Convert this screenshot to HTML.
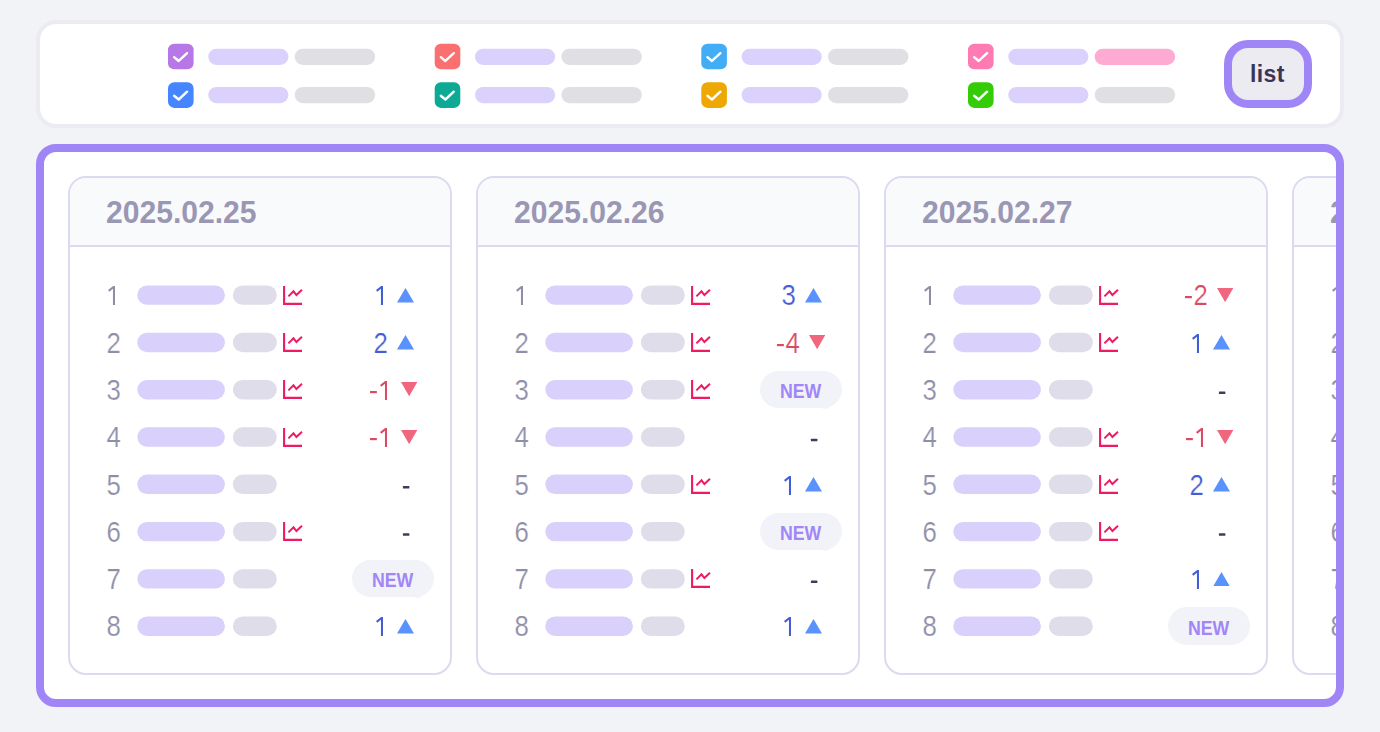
<!DOCTYPE html><html><head><meta charset="utf-8"><title>rank</title><style>
*{box-sizing:border-box;margin:0;padding:0}
html,body{width:1380px;height:732px;overflow:hidden}
body{background:#f2f3f7;font-family:"Liberation Sans",sans-serif;position:relative}
.top{position:absolute;left:36px;top:20px;width:1308px;height:108px;background:#fff;border:4px solid #ebebf1;border-radius:20px}
.cbs{position:absolute}
.listbtn{position:absolute;left:1224px;top:40px;width:88px;height:68px;border:8px solid #9f85f5;border-radius:24px;background:#ecebf2;color:#3a3456;font-weight:bold;font-size:23px;letter-spacing:.4px;text-align:center;line-height:53px;text-indent:-1.2px}
.panel{position:absolute;left:36px;top:144px;width:1308px;height:563px;border:8px solid #9f85f5;border-radius:20px;background:#fff;overflow:hidden}
.card{position:absolute;top:24px;width:384px;height:499px;border:2px solid #dddaf0;border-radius:18px;background:#fff;overflow:hidden}
.hd{position:absolute;left:0;top:0;width:100%;height:68.6px;background:#f9fafc;border-bottom:2px solid #dddaf0}
.date{position:absolute;left:35.8px;top:14px;font-size:32px;font-weight:bold;color:#9997b3;line-height:40px;white-space:nowrap;transform:scaleX(.94);transform-origin:0 0}
.row{position:absolute;left:0;width:100%;height:0}
.rk{position:absolute;left:36px;top:var(--t);height:40px;line-height:40px;font-size:28px;color:#8f8ea8;width:20px;white-space:nowrap;-webkit-text-stroke:.22px #fff}
.ic{position:absolute;left:213px;top:-9.4px;width:20px;height:20px}
.num{position:absolute;top:var(--t);height:40px;line-height:40px;font-size:28px;text-align:right;width:60px;white-space:nowrap;-webkit-text-stroke:.22px #fff}
.one{display:inline-block;width:15px;height:18.9px;vertical-align:baseline}
.rk .one{margin-left:.3px}
.d{display:inline-block;transform:scale(.92,1.03);transform-origin:50% 29.7px}
.mi{display:inline-block;width:8.1px;height:2.2px;vertical-align:6.2px}
.up{color:#445dd6}.dn{color:#dc4a62}
.tri{position:absolute}
.new{position:absolute;left:282px;top:-18.7px;width:82px;height:37px;border-radius:18.5px;background:#f2f3f8;color:#a186f6;font-weight:bold;font-size:20.3px;line-height:40.8px;text-align:center}
.new.last{height:38.4px;top:-19.2px;border-radius:19.2px;line-height:42px}
.new b{display:inline-block;transform:scaleX(.875)}
.new i{position:absolute;left:59px;top:30px;width:12px;height:8px;border-radius:0 0 8px 8px;background:#f2f3f8}
</style></head><body>
<div class="top"></div>
<svg class="cbs" style="left:167px;top:42px" width="29" height="29" viewBox="0 0 29 29"><rect x="1.00" y="1.65" width="25.6" height="25.7" rx="6.2" fill="#b877e6"/><path transform="translate(1.00 1.65)" d="M6.1 13.5 L10.7 17.3 L19.1 9.5" fill="none" stroke="#fff" stroke-width="2.4" stroke-linecap="round" stroke-linejoin="round"/></svg>
<svg class="cbs" style="left:433px;top:42px" width="29" height="29" viewBox="0 0 29 29"><rect x="1.70" y="1.65" width="25.6" height="25.7" rx="6.2" fill="#fa7070"/><path transform="translate(1.70 1.65)" d="M6.1 13.5 L10.7 17.3 L19.1 9.5" fill="none" stroke="#fff" stroke-width="2.4" stroke-linecap="round" stroke-linejoin="round"/></svg>
<svg class="cbs" style="left:700px;top:42px" width="29" height="29" viewBox="0 0 29 29"><rect x="1.30" y="1.65" width="25.6" height="25.7" rx="6.2" fill="#42adf5"/><path transform="translate(1.30 1.65)" d="M6.1 13.5 L10.7 17.3 L19.1 9.5" fill="none" stroke="#fff" stroke-width="2.4" stroke-linecap="round" stroke-linejoin="round"/></svg>
<svg class="cbs" style="left:967px;top:42px" width="29" height="29" viewBox="0 0 29 29"><rect x="1.00" y="1.65" width="25.6" height="25.7" rx="6.2" fill="#ff7ab2"/><path transform="translate(1.00 1.65)" d="M6.1 13.5 L10.7 17.3 L19.1 9.5" fill="none" stroke="#fff" stroke-width="2.4" stroke-linecap="round" stroke-linejoin="round"/></svg>
<svg class="cbs" style="left:167px;top:81px" width="29" height="29" viewBox="0 0 29 29"><rect x="1.00" y="1.20" width="25.6" height="25.7" rx="6.2" fill="#4585ff"/><path transform="translate(1.00 1.20)" d="M6.1 13.5 L10.7 17.3 L19.1 9.5" fill="none" stroke="#fff" stroke-width="2.4" stroke-linecap="round" stroke-linejoin="round"/></svg>
<svg class="cbs" style="left:433px;top:81px" width="29" height="29" viewBox="0 0 29 29"><rect x="1.70" y="1.20" width="25.6" height="25.7" rx="6.2" fill="#0caa95"/><path transform="translate(1.70 1.20)" d="M6.1 13.5 L10.7 17.3 L19.1 9.5" fill="none" stroke="#fff" stroke-width="2.4" stroke-linecap="round" stroke-linejoin="round"/></svg>
<svg class="cbs" style="left:700px;top:81px" width="29" height="29" viewBox="0 0 29 29"><rect x="1.30" y="1.20" width="25.6" height="25.7" rx="6.2" fill="#eda804"/><path transform="translate(1.30 1.20)" d="M6.1 13.5 L10.7 17.3 L19.1 9.5" fill="none" stroke="#fff" stroke-width="2.4" stroke-linecap="round" stroke-linejoin="round"/></svg>
<svg class="cbs" style="left:967px;top:81px" width="29" height="29" viewBox="0 0 29 29"><rect x="1.00" y="1.20" width="25.6" height="25.7" rx="6.2" fill="#33cc06"/><path transform="translate(1.00 1.20)" d="M6.1 13.5 L10.7 17.3 L19.1 9.5" fill="none" stroke="#fff" stroke-width="2.4" stroke-linecap="round" stroke-linejoin="round"/></svg>
<svg style="position:absolute;left:0;top:0" width="1380" height="130" viewBox="0 0 1380 130"><rect x="208.30" y="48.70" width="80.1" height="16.2" rx="8.1" fill="#dad1fc"/><rect x="294.70" y="48.70" width="80.4" height="16.2" rx="8.1" fill="#e0dfe4"/><rect x="475.00" y="48.70" width="80.1" height="16.2" rx="8.1" fill="#dad1fc"/><rect x="561.40" y="48.70" width="80.4" height="16.2" rx="8.1" fill="#e0dfe4"/><rect x="741.60" y="48.70" width="80.1" height="16.2" rx="8.1" fill="#dad1fc"/><rect x="828.00" y="48.70" width="80.4" height="16.2" rx="8.1" fill="#e0dfe4"/><rect x="1008.30" y="48.70" width="80.1" height="16.2" rx="8.1" fill="#dad1fc"/><rect x="1094.70" y="48.70" width="80.4" height="16.2" rx="8.1" fill="#ffaad2"/><rect x="208.30" y="86.95" width="80.1" height="16.2" rx="8.1" fill="#dad1fc"/><rect x="294.70" y="86.95" width="80.4" height="16.2" rx="8.1" fill="#e0dfe4"/><rect x="475.00" y="86.95" width="80.1" height="16.2" rx="8.1" fill="#dad1fc"/><rect x="561.40" y="86.95" width="80.4" height="16.2" rx="8.1" fill="#e0dfe4"/><rect x="741.60" y="86.95" width="80.1" height="16.2" rx="8.1" fill="#dad1fc"/><rect x="828.00" y="86.95" width="80.4" height="16.2" rx="8.1" fill="#e0dfe4"/><rect x="1008.30" y="86.95" width="80.1" height="16.2" rx="8.1" fill="#dad1fc"/><rect x="1094.70" y="86.95" width="80.4" height="16.2" rx="8.1" fill="#e0dfe4"/></svg>
<div class="listbtn">list</div>
<div class="panel">
<div class="card" style="left:24px"><div class="hd"><div class="date">2025.02.25</div></div>
<div class="row" style="top:117.15px;--t:-19.40px"><div class="rk"><svg class="one" viewBox="0 0 15 18.9"><path d="M9 0 L7.2 0 L2.04 4 L3.27 5.8 L6.96 2.8 L6.96 18.9 L9 18.9 Z" fill="currentColor"/></svg></div><svg class="ic" viewBox="0 0 20 20"><path d="M1.1 0 V17.9 H19" fill="none" stroke="#ee1a62" stroke-width="2.1"/><path d="M5.4 10.4 L10.5 5.3 L13.4 9.1 L19 3.8" fill="none" stroke="#ee1a62" stroke-width="2"/></svg><div class="num up" style="left:259px"><svg class="one" viewBox="0 0 15 18.9"><path d="M9 0 L7.2 0 L2.04 4 L3.27 5.8 L6.96 2.8 L6.96 18.9 L9 18.9 Z" fill="currentColor"/></svg></div><svg class="tri" style="left:327px;top:-7.1px" width="17" height="14.6" viewBox="0 0 17 14.6"><path d="M8.5 0 L17 14.6 H0 Z" fill="#5991fd"/></svg></div>
<div class="row" style="top:164.44px;--t:-18.69px"><div class="rk"><span class="d">2</span></div><svg class="ic" viewBox="0 0 20 20"><path d="M1.1 0 V17.9 H19" fill="none" stroke="#ee1a62" stroke-width="2.1"/><path d="M5.4 10.4 L10.5 5.3 L13.4 9.1 L19 3.8" fill="none" stroke="#ee1a62" stroke-width="2"/></svg><div class="num up" style="left:259px"><span class="d">2</span></div><svg class="tri" style="left:327px;top:-7.1px" width="17" height="14.6" viewBox="0 0 17 14.6"><path d="M8.5 0 L17 14.6 H0 Z" fill="#5991fd"/></svg></div>
<div class="row" style="top:211.73px;--t:-18.98px"><div class="rk"><span class="d">3</span></div><svg class="ic" viewBox="0 0 20 20"><path d="M1.1 0 V17.9 H19" fill="none" stroke="#ee1a62" stroke-width="2.1"/><path d="M5.4 10.4 L10.5 5.3 L13.4 9.1 L19 3.8" fill="none" stroke="#ee1a62" stroke-width="2"/></svg><div class="num dn" style="left:262.7px"><svg class="mi" viewBox="0 0 8.1 2.2"><rect width="6.9" height="2.2" fill="currentColor"/></svg><svg class="one" viewBox="0 0 15 18.9"><path d="M9 0 L7.2 0 L2.04 4 L3.27 5.8 L6.96 2.8 L6.96 18.9 L9 18.9 Z" fill="currentColor"/></svg></div><svg class="tri" style="left:330.8px;top:-7.3px" width="16.3" height="14.2" viewBox="0 0 16.3 14.2"><path d="M0 0 H16.3 L8.15 14.2 Z" fill="#f0667f"/></svg></div>
<div class="row" style="top:259.02px;--t:-19.27px"><div class="rk"><span class="d">4</span></div><svg class="ic" viewBox="0 0 20 20"><path d="M1.1 0 V17.9 H19" fill="none" stroke="#ee1a62" stroke-width="2.1"/><path d="M5.4 10.4 L10.5 5.3 L13.4 9.1 L19 3.8" fill="none" stroke="#ee1a62" stroke-width="2"/></svg><div class="num dn" style="left:262.7px"><svg class="mi" viewBox="0 0 8.1 2.2"><rect width="6.9" height="2.2" fill="currentColor"/></svg><svg class="one" viewBox="0 0 15 18.9"><path d="M9 0 L7.2 0 L2.04 4 L3.27 5.8 L6.96 2.8 L6.96 18.9 L9 18.9 Z" fill="currentColor"/></svg></div><svg class="tri" style="left:330.8px;top:-7.3px" width="16.3" height="14.2" viewBox="0 0 16.3 14.2"><path d="M0 0 H16.3 L8.15 14.2 Z" fill="#f0667f"/></svg></div>
<div class="row" style="top:306.31px;--t:-18.56px"><div class="rk"><span class="d">5</span></div></div>
<div class="row" style="top:353.60px;--t:-18.85px"><div class="rk"><span class="d">6</span></div><svg class="ic" viewBox="0 0 20 20"><path d="M1.1 0 V17.9 H19" fill="none" stroke="#ee1a62" stroke-width="2.1"/><path d="M5.4 10.4 L10.5 5.3 L13.4 9.1 L19 3.8" fill="none" stroke="#ee1a62" stroke-width="2"/></svg></div>
<div class="row" style="top:400.89px;--t:-19.14px"><div class="rk"><span class="d">7</span></div><div class="new"><b>NEW</b><i></i></div></div>
<div class="row" style="top:448.18px;--t:-19.43px"><div class="rk"><span class="d">8</span></div><div class="num up" style="left:259px"><svg class="one" viewBox="0 0 15 18.9"><path d="M9 0 L7.2 0 L2.04 4 L3.27 5.8 L6.96 2.8 L6.96 18.9 L9 18.9 Z" fill="currentColor"/></svg></div><svg class="tri" style="left:327px;top:-7.1px" width="17" height="14.6" viewBox="0 0 17 14.6"><path d="M8.5 0 L17 14.6 H0 Z" fill="#5991fd"/></svg></div>
<svg style="position:absolute;left:0;top:0" width="380" height="495" viewBox="0 0 380 495"><rect x="67.3" y="107.45" width="87.6" height="19.4" rx="9.7" fill="#d9d0fb"/><rect x="162.9" y="107.45" width="43.9" height="19.4" rx="9.7" fill="#dedde9"/><rect x="67.3" y="154.74" width="87.6" height="19.4" rx="9.7" fill="#d9d0fb"/><rect x="162.9" y="154.74" width="43.9" height="19.4" rx="9.7" fill="#dedde9"/><rect x="67.3" y="202.03" width="87.6" height="19.4" rx="9.7" fill="#d9d0fb"/><rect x="162.9" y="202.03" width="43.9" height="19.4" rx="9.7" fill="#dedde9"/><rect x="67.3" y="249.32" width="87.6" height="19.4" rx="9.7" fill="#d9d0fb"/><rect x="162.9" y="249.32" width="43.9" height="19.4" rx="9.7" fill="#dedde9"/><rect x="67.3" y="296.61" width="87.6" height="19.4" rx="9.7" fill="#d9d0fb"/><rect x="162.9" y="296.61" width="43.9" height="19.4" rx="9.7" fill="#dedde9"/><rect x="332.9" y="307.96" width="6.5" height="2.55" rx=".5" fill="#403b5c"/><rect x="67.3" y="343.90" width="87.6" height="19.4" rx="9.7" fill="#d9d0fb"/><rect x="162.9" y="343.90" width="43.9" height="19.4" rx="9.7" fill="#dedde9"/><rect x="332.9" y="355.25" width="6.5" height="2.55" rx=".5" fill="#403b5c"/><rect x="67.3" y="391.19" width="87.6" height="19.4" rx="9.7" fill="#d9d0fb"/><rect x="162.9" y="391.19" width="43.9" height="19.4" rx="9.7" fill="#dedde9"/><rect x="67.3" y="438.48" width="87.6" height="19.4" rx="9.7" fill="#d9d0fb"/><rect x="162.9" y="438.48" width="43.9" height="19.4" rx="9.7" fill="#dedde9"/></svg>
</div>
<div class="card" style="left:432px"><div class="hd"><div class="date">2025.02.26</div></div>
<div class="row" style="top:117.15px;--t:-19.40px"><div class="rk"><svg class="one" viewBox="0 0 15 18.9"><path d="M9 0 L7.2 0 L2.04 4 L3.27 5.8 L6.96 2.8 L6.96 18.9 L9 18.9 Z" fill="currentColor"/></svg></div><svg class="ic" viewBox="0 0 20 20"><path d="M1.1 0 V17.9 H19" fill="none" stroke="#ee1a62" stroke-width="2.1"/><path d="M5.4 10.4 L10.5 5.3 L13.4 9.1 L19 3.8" fill="none" stroke="#ee1a62" stroke-width="2"/></svg><div class="num up" style="left:259px"><span class="d">3</span></div><svg class="tri" style="left:327px;top:-7.1px" width="17" height="14.6" viewBox="0 0 17 14.6"><path d="M8.5 0 L17 14.6 H0 Z" fill="#5991fd"/></svg></div>
<div class="row" style="top:164.44px;--t:-18.69px"><div class="rk"><span class="d">2</span></div><svg class="ic" viewBox="0 0 20 20"><path d="M1.1 0 V17.9 H19" fill="none" stroke="#ee1a62" stroke-width="2.1"/><path d="M5.4 10.4 L10.5 5.3 L13.4 9.1 L19 3.8" fill="none" stroke="#ee1a62" stroke-width="2"/></svg><div class="num dn" style="left:262.7px"><svg class="mi" viewBox="0 0 8.1 2.2"><rect width="6.9" height="2.2" fill="currentColor"/></svg><span class="d">4</span></div><svg class="tri" style="left:330.8px;top:-7.3px" width="16.3" height="14.2" viewBox="0 0 16.3 14.2"><path d="M0 0 H16.3 L8.15 14.2 Z" fill="#f0667f"/></svg></div>
<div class="row" style="top:211.73px;--t:-18.98px"><div class="rk"><span class="d">3</span></div><svg class="ic" viewBox="0 0 20 20"><path d="M1.1 0 V17.9 H19" fill="none" stroke="#ee1a62" stroke-width="2.1"/><path d="M5.4 10.4 L10.5 5.3 L13.4 9.1 L19 3.8" fill="none" stroke="#ee1a62" stroke-width="2"/></svg><div class="new"><b>NEW</b><i></i></div></div>
<div class="row" style="top:259.02px;--t:-19.27px"><div class="rk"><span class="d">4</span></div></div>
<div class="row" style="top:306.31px;--t:-18.56px"><div class="rk"><span class="d">5</span></div><svg class="ic" viewBox="0 0 20 20"><path d="M1.1 0 V17.9 H19" fill="none" stroke="#ee1a62" stroke-width="2.1"/><path d="M5.4 10.4 L10.5 5.3 L13.4 9.1 L19 3.8" fill="none" stroke="#ee1a62" stroke-width="2"/></svg><div class="num up" style="left:259px"><svg class="one" viewBox="0 0 15 18.9"><path d="M9 0 L7.2 0 L2.04 4 L3.27 5.8 L6.96 2.8 L6.96 18.9 L9 18.9 Z" fill="currentColor"/></svg></div><svg class="tri" style="left:327px;top:-7.1px" width="17" height="14.6" viewBox="0 0 17 14.6"><path d="M8.5 0 L17 14.6 H0 Z" fill="#5991fd"/></svg></div>
<div class="row" style="top:353.60px;--t:-18.85px"><div class="rk"><span class="d">6</span></div><div class="new"><b>NEW</b><i></i></div></div>
<div class="row" style="top:400.89px;--t:-19.14px"><div class="rk"><span class="d">7</span></div><svg class="ic" viewBox="0 0 20 20"><path d="M1.1 0 V17.9 H19" fill="none" stroke="#ee1a62" stroke-width="2.1"/><path d="M5.4 10.4 L10.5 5.3 L13.4 9.1 L19 3.8" fill="none" stroke="#ee1a62" stroke-width="2"/></svg></div>
<div class="row" style="top:448.18px;--t:-19.43px"><div class="rk"><span class="d">8</span></div><div class="num up" style="left:259px"><svg class="one" viewBox="0 0 15 18.9"><path d="M9 0 L7.2 0 L2.04 4 L3.27 5.8 L6.96 2.8 L6.96 18.9 L9 18.9 Z" fill="currentColor"/></svg></div><svg class="tri" style="left:327px;top:-7.1px" width="17" height="14.6" viewBox="0 0 17 14.6"><path d="M8.5 0 L17 14.6 H0 Z" fill="#5991fd"/></svg></div>
<svg style="position:absolute;left:0;top:0" width="380" height="495" viewBox="0 0 380 495"><rect x="67.3" y="107.45" width="87.6" height="19.4" rx="9.7" fill="#d9d0fb"/><rect x="162.9" y="107.45" width="43.9" height="19.4" rx="9.7" fill="#dedde9"/><rect x="67.3" y="154.74" width="87.6" height="19.4" rx="9.7" fill="#d9d0fb"/><rect x="162.9" y="154.74" width="43.9" height="19.4" rx="9.7" fill="#dedde9"/><rect x="67.3" y="202.03" width="87.6" height="19.4" rx="9.7" fill="#d9d0fb"/><rect x="162.9" y="202.03" width="43.9" height="19.4" rx="9.7" fill="#dedde9"/><rect x="67.3" y="249.32" width="87.6" height="19.4" rx="9.7" fill="#d9d0fb"/><rect x="162.9" y="249.32" width="43.9" height="19.4" rx="9.7" fill="#dedde9"/><rect x="332.9" y="260.67" width="6.5" height="2.55" rx=".5" fill="#403b5c"/><rect x="67.3" y="296.61" width="87.6" height="19.4" rx="9.7" fill="#d9d0fb"/><rect x="162.9" y="296.61" width="43.9" height="19.4" rx="9.7" fill="#dedde9"/><rect x="67.3" y="343.90" width="87.6" height="19.4" rx="9.7" fill="#d9d0fb"/><rect x="162.9" y="343.90" width="43.9" height="19.4" rx="9.7" fill="#dedde9"/><rect x="67.3" y="391.19" width="87.6" height="19.4" rx="9.7" fill="#d9d0fb"/><rect x="162.9" y="391.19" width="43.9" height="19.4" rx="9.7" fill="#dedde9"/><rect x="332.9" y="402.54" width="6.5" height="2.55" rx=".5" fill="#403b5c"/><rect x="67.3" y="438.48" width="87.6" height="19.4" rx="9.7" fill="#d9d0fb"/><rect x="162.9" y="438.48" width="43.9" height="19.4" rx="9.7" fill="#dedde9"/></svg>
</div>
<div class="card" style="left:840px"><div class="hd"><div class="date">2025.02.27</div></div>
<div class="row" style="top:117.15px;--t:-19.40px"><div class="rk"><svg class="one" viewBox="0 0 15 18.9"><path d="M9 0 L7.2 0 L2.04 4 L3.27 5.8 L6.96 2.8 L6.96 18.9 L9 18.9 Z" fill="currentColor"/></svg></div><svg class="ic" viewBox="0 0 20 20"><path d="M1.1 0 V17.9 H19" fill="none" stroke="#ee1a62" stroke-width="2.1"/><path d="M5.4 10.4 L10.5 5.3 L13.4 9.1 L19 3.8" fill="none" stroke="#ee1a62" stroke-width="2"/></svg><div class="num dn" style="left:262.7px"><svg class="mi" viewBox="0 0 8.1 2.2"><rect width="6.9" height="2.2" fill="currentColor"/></svg><span class="d">2</span></div><svg class="tri" style="left:330.8px;top:-7.3px" width="16.3" height="14.2" viewBox="0 0 16.3 14.2"><path d="M0 0 H16.3 L8.15 14.2 Z" fill="#f0667f"/></svg></div>
<div class="row" style="top:164.44px;--t:-18.69px"><div class="rk"><span class="d">2</span></div><svg class="ic" viewBox="0 0 20 20"><path d="M1.1 0 V17.9 H19" fill="none" stroke="#ee1a62" stroke-width="2.1"/><path d="M5.4 10.4 L10.5 5.3 L13.4 9.1 L19 3.8" fill="none" stroke="#ee1a62" stroke-width="2"/></svg><div class="num up" style="left:259px"><svg class="one" viewBox="0 0 15 18.9"><path d="M9 0 L7.2 0 L2.04 4 L3.27 5.8 L6.96 2.8 L6.96 18.9 L9 18.9 Z" fill="currentColor"/></svg></div><svg class="tri" style="left:327px;top:-7.1px" width="17" height="14.6" viewBox="0 0 17 14.6"><path d="M8.5 0 L17 14.6 H0 Z" fill="#5991fd"/></svg></div>
<div class="row" style="top:211.73px;--t:-18.98px"><div class="rk"><span class="d">3</span></div></div>
<div class="row" style="top:259.02px;--t:-19.27px"><div class="rk"><span class="d">4</span></div><svg class="ic" viewBox="0 0 20 20"><path d="M1.1 0 V17.9 H19" fill="none" stroke="#ee1a62" stroke-width="2.1"/><path d="M5.4 10.4 L10.5 5.3 L13.4 9.1 L19 3.8" fill="none" stroke="#ee1a62" stroke-width="2"/></svg><div class="num dn" style="left:262.7px"><svg class="mi" viewBox="0 0 8.1 2.2"><rect width="6.9" height="2.2" fill="currentColor"/></svg><svg class="one" viewBox="0 0 15 18.9"><path d="M9 0 L7.2 0 L2.04 4 L3.27 5.8 L6.96 2.8 L6.96 18.9 L9 18.9 Z" fill="currentColor"/></svg></div><svg class="tri" style="left:330.8px;top:-7.3px" width="16.3" height="14.2" viewBox="0 0 16.3 14.2"><path d="M0 0 H16.3 L8.15 14.2 Z" fill="#f0667f"/></svg></div>
<div class="row" style="top:306.31px;--t:-18.56px"><div class="rk"><span class="d">5</span></div><svg class="ic" viewBox="0 0 20 20"><path d="M1.1 0 V17.9 H19" fill="none" stroke="#ee1a62" stroke-width="2.1"/><path d="M5.4 10.4 L10.5 5.3 L13.4 9.1 L19 3.8" fill="none" stroke="#ee1a62" stroke-width="2"/></svg><div class="num up" style="left:259px"><span class="d">2</span></div><svg class="tri" style="left:327px;top:-7.1px" width="17" height="14.6" viewBox="0 0 17 14.6"><path d="M8.5 0 L17 14.6 H0 Z" fill="#5991fd"/></svg></div>
<div class="row" style="top:353.60px;--t:-18.85px"><div class="rk"><span class="d">6</span></div><svg class="ic" viewBox="0 0 20 20"><path d="M1.1 0 V17.9 H19" fill="none" stroke="#ee1a62" stroke-width="2.1"/><path d="M5.4 10.4 L10.5 5.3 L13.4 9.1 L19 3.8" fill="none" stroke="#ee1a62" stroke-width="2"/></svg></div>
<div class="row" style="top:400.89px;--t:-19.14px"><div class="rk"><span class="d">7</span></div><div class="num up" style="left:259px"><svg class="one" viewBox="0 0 15 18.9"><path d="M9 0 L7.2 0 L2.04 4 L3.27 5.8 L6.96 2.8 L6.96 18.9 L9 18.9 Z" fill="currentColor"/></svg></div><svg class="tri" style="left:327px;top:-7.1px" width="17" height="14.6" viewBox="0 0 17 14.6"><path d="M8.5 0 L17 14.6 H0 Z" fill="#5991fd"/></svg></div>
<div class="row" style="top:448.18px;--t:-19.43px"><div class="rk"><span class="d">8</span></div><div class="new last"><b>NEW</b></div></div>
<svg style="position:absolute;left:0;top:0" width="380" height="495" viewBox="0 0 380 495"><rect x="67.3" y="107.45" width="87.6" height="19.4" rx="9.7" fill="#d9d0fb"/><rect x="162.9" y="107.45" width="43.9" height="19.4" rx="9.7" fill="#dedde9"/><rect x="67.3" y="154.74" width="87.6" height="19.4" rx="9.7" fill="#d9d0fb"/><rect x="162.9" y="154.74" width="43.9" height="19.4" rx="9.7" fill="#dedde9"/><rect x="67.3" y="202.03" width="87.6" height="19.4" rx="9.7" fill="#d9d0fb"/><rect x="162.9" y="202.03" width="43.9" height="19.4" rx="9.7" fill="#dedde9"/><rect x="332.9" y="213.38" width="6.5" height="2.55" rx=".5" fill="#403b5c"/><rect x="67.3" y="249.32" width="87.6" height="19.4" rx="9.7" fill="#d9d0fb"/><rect x="162.9" y="249.32" width="43.9" height="19.4" rx="9.7" fill="#dedde9"/><rect x="67.3" y="296.61" width="87.6" height="19.4" rx="9.7" fill="#d9d0fb"/><rect x="162.9" y="296.61" width="43.9" height="19.4" rx="9.7" fill="#dedde9"/><rect x="67.3" y="343.90" width="87.6" height="19.4" rx="9.7" fill="#d9d0fb"/><rect x="162.9" y="343.90" width="43.9" height="19.4" rx="9.7" fill="#dedde9"/><rect x="332.9" y="355.25" width="6.5" height="2.55" rx=".5" fill="#403b5c"/><rect x="67.3" y="391.19" width="87.6" height="19.4" rx="9.7" fill="#d9d0fb"/><rect x="162.9" y="391.19" width="43.9" height="19.4" rx="9.7" fill="#dedde9"/><rect x="67.3" y="438.48" width="87.6" height="19.4" rx="9.7" fill="#d9d0fb"/><rect x="162.9" y="438.48" width="43.9" height="19.4" rx="9.7" fill="#dedde9"/></svg>
</div>
<div class="card" style="left:1248px"><div class="hd"><div class="date">2025.02.28</div></div>
<div class="row" style="top:117.15px;--t:-19.40px"><div class="rk"><svg class="one" viewBox="0 0 15 18.9"><path d="M9 0 L7.2 0 L2.04 4 L3.27 5.8 L6.96 2.8 L6.96 18.9 L9 18.9 Z" fill="currentColor"/></svg></div><svg class="ic" viewBox="0 0 20 20"><path d="M1.1 0 V17.9 H19" fill="none" stroke="#ee1a62" stroke-width="2.1"/><path d="M5.4 10.4 L10.5 5.3 L13.4 9.1 L19 3.8" fill="none" stroke="#ee1a62" stroke-width="2"/></svg><div class="num up" style="left:259px"><svg class="one" viewBox="0 0 15 18.9"><path d="M9 0 L7.2 0 L2.04 4 L3.27 5.8 L6.96 2.8 L6.96 18.9 L9 18.9 Z" fill="currentColor"/></svg></div><svg class="tri" style="left:327px;top:-7.1px" width="17" height="14.6" viewBox="0 0 17 14.6"><path d="M8.5 0 L17 14.6 H0 Z" fill="#5991fd"/></svg></div>
<div class="row" style="top:164.44px;--t:-18.69px"><div class="rk"><span class="d">2</span></div><svg class="ic" viewBox="0 0 20 20"><path d="M1.1 0 V17.9 H19" fill="none" stroke="#ee1a62" stroke-width="2.1"/><path d="M5.4 10.4 L10.5 5.3 L13.4 9.1 L19 3.8" fill="none" stroke="#ee1a62" stroke-width="2"/></svg><div class="num up" style="left:259px"><span class="d">2</span></div><svg class="tri" style="left:327px;top:-7.1px" width="17" height="14.6" viewBox="0 0 17 14.6"><path d="M8.5 0 L17 14.6 H0 Z" fill="#5991fd"/></svg></div>
<div class="row" style="top:211.73px;--t:-18.98px"><div class="rk"><span class="d">3</span></div></div>
<div class="row" style="top:259.02px;--t:-19.27px"><div class="rk"><span class="d">4</span></div><svg class="ic" viewBox="0 0 20 20"><path d="M1.1 0 V17.9 H19" fill="none" stroke="#ee1a62" stroke-width="2.1"/><path d="M5.4 10.4 L10.5 5.3 L13.4 9.1 L19 3.8" fill="none" stroke="#ee1a62" stroke-width="2"/></svg><div class="num dn" style="left:262.7px"><svg class="mi" viewBox="0 0 8.1 2.2"><rect width="6.9" height="2.2" fill="currentColor"/></svg><svg class="one" viewBox="0 0 15 18.9"><path d="M9 0 L7.2 0 L2.04 4 L3.27 5.8 L6.96 2.8 L6.96 18.9 L9 18.9 Z" fill="currentColor"/></svg></div><svg class="tri" style="left:330.8px;top:-7.3px" width="16.3" height="14.2" viewBox="0 0 16.3 14.2"><path d="M0 0 H16.3 L8.15 14.2 Z" fill="#f0667f"/></svg></div>
<div class="row" style="top:306.31px;--t:-18.56px"><div class="rk"><span class="d">5</span></div><svg class="ic" viewBox="0 0 20 20"><path d="M1.1 0 V17.9 H19" fill="none" stroke="#ee1a62" stroke-width="2.1"/><path d="M5.4 10.4 L10.5 5.3 L13.4 9.1 L19 3.8" fill="none" stroke="#ee1a62" stroke-width="2"/></svg><div class="num up" style="left:259px"><span class="d">2</span></div><svg class="tri" style="left:327px;top:-7.1px" width="17" height="14.6" viewBox="0 0 17 14.6"><path d="M8.5 0 L17 14.6 H0 Z" fill="#5991fd"/></svg></div>
<div class="row" style="top:353.60px;--t:-18.85px"><div class="rk"><span class="d">6</span></div><svg class="ic" viewBox="0 0 20 20"><path d="M1.1 0 V17.9 H19" fill="none" stroke="#ee1a62" stroke-width="2.1"/><path d="M5.4 10.4 L10.5 5.3 L13.4 9.1 L19 3.8" fill="none" stroke="#ee1a62" stroke-width="2"/></svg></div>
<div class="row" style="top:400.89px;--t:-19.14px"><div class="rk"><span class="d">7</span></div><div class="num up" style="left:259px"><svg class="one" viewBox="0 0 15 18.9"><path d="M9 0 L7.2 0 L2.04 4 L3.27 5.8 L6.96 2.8 L6.96 18.9 L9 18.9 Z" fill="currentColor"/></svg></div><svg class="tri" style="left:327px;top:-7.1px" width="17" height="14.6" viewBox="0 0 17 14.6"><path d="M8.5 0 L17 14.6 H0 Z" fill="#5991fd"/></svg></div>
<div class="row" style="top:448.18px;--t:-19.43px"><div class="rk"><span class="d">8</span></div><div class="new last"><b>NEW</b></div></div>
<svg style="position:absolute;left:0;top:0" width="380" height="495" viewBox="0 0 380 495"><rect x="67.3" y="107.45" width="87.6" height="19.4" rx="9.7" fill="#d9d0fb"/><rect x="162.9" y="107.45" width="43.9" height="19.4" rx="9.7" fill="#dedde9"/><rect x="67.3" y="154.74" width="87.6" height="19.4" rx="9.7" fill="#d9d0fb"/><rect x="162.9" y="154.74" width="43.9" height="19.4" rx="9.7" fill="#dedde9"/><rect x="67.3" y="202.03" width="87.6" height="19.4" rx="9.7" fill="#d9d0fb"/><rect x="162.9" y="202.03" width="43.9" height="19.4" rx="9.7" fill="#dedde9"/><rect x="332.9" y="213.38" width="6.5" height="2.55" rx=".5" fill="#403b5c"/><rect x="67.3" y="249.32" width="87.6" height="19.4" rx="9.7" fill="#d9d0fb"/><rect x="162.9" y="249.32" width="43.9" height="19.4" rx="9.7" fill="#dedde9"/><rect x="67.3" y="296.61" width="87.6" height="19.4" rx="9.7" fill="#d9d0fb"/><rect x="162.9" y="296.61" width="43.9" height="19.4" rx="9.7" fill="#dedde9"/><rect x="67.3" y="343.90" width="87.6" height="19.4" rx="9.7" fill="#d9d0fb"/><rect x="162.9" y="343.90" width="43.9" height="19.4" rx="9.7" fill="#dedde9"/><rect x="332.9" y="355.25" width="6.5" height="2.55" rx=".5" fill="#403b5c"/><rect x="67.3" y="391.19" width="87.6" height="19.4" rx="9.7" fill="#d9d0fb"/><rect x="162.9" y="391.19" width="43.9" height="19.4" rx="9.7" fill="#dedde9"/><rect x="67.3" y="438.48" width="87.6" height="19.4" rx="9.7" fill="#d9d0fb"/><rect x="162.9" y="438.48" width="43.9" height="19.4" rx="9.7" fill="#dedde9"/></svg>
</div>
</div></body></html>
